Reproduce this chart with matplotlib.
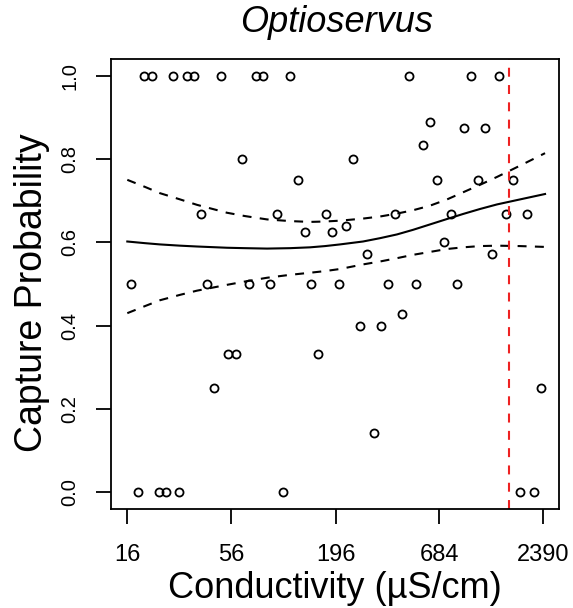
import matplotlib
matplotlib.use("Agg")
import matplotlib.pyplot as plt

plt.rcParams['font.family'] = ['Liberation Sans', 'DejaVu Sans']

# Observed capture proportions by site conductivity (uS/cm)
cond = [19.6, 21.5, 27.6, 32.7, 35.7, 49.6, 75.0, 81.9, 113.8, 473, 1005, 1407,
        63.6, 242,
        124.4, 662.6, 1093, 1666,
        609,
        923, 1185,
        562,
        38.7, 96.9, 174.2, 401, 784, 1526, 1964,
        135.3, 188.7,
        223.2,
        721,
        287.4, 1294,
        16.7, 41.9, 69.2, 89.1, 146.5, 203.2, 368.8, 514.7, 849,
        434.9,
        264.2, 339,
        54.0, 59.0, 159.4,
        45.6, 2317,
        311.6,
        18.3, 23.4, 25.6, 29.9, 104.6, 1805, 2130]
prob = [1.0] * 12 + [0.8] * 2 + [0.75] * 4 + [0.889] + [0.875] * 2 + [0.833] \
    + [0.667] * 7 + [0.625] * 2 + [0.64] + [0.6] + [0.571] * 2 + [0.5] * 9 \
    + [0.429] + [0.4] * 2 + [0.333] * 3 + [0.25] * 2 + [0.143] + [0.0] * 7

# Fitted curve and confidence band
fit_x = [16, 19.8, 23.7, 30.2, 37.0, 53.1, 66.0, 86.0, 113.4, 144.2, 172.8, 206.9,
         272.9, 334.9, 410.9, 498.1, 611.2, 750.1, 909.1, 1115, 1369, 1805, 2440]
fit_mid = [0.602, 0.598, 0.595, 0.592, 0.590, 0.587, 0.586, 0.585, 0.586, 0.588, 0.591, 0.595,
           0.602, 0.610, 0.619, 0.630, 0.643, 0.656, 0.668, 0.680, 0.691, 0.703, 0.716]
fit_hi = [0.750, 0.733, 0.718, 0.703, 0.690, 0.671, 0.663, 0.655, 0.651, 0.649, 0.650, 0.652,
          0.657, 0.662, 0.669, 0.677, 0.688, 0.703, 0.720, 0.738, 0.757, 0.784, 0.814]
fit_lo = [0.430, 0.447, 0.461, 0.474, 0.484, 0.498, 0.506, 0.515, 0.522, 0.527, 0.531, 0.536,
          0.547, 0.554, 0.562, 0.570, 0.577, 0.584, 0.588, 0.591, 0.592, 0.591, 0.589]

threshold = 1582
xticks = [16, 56, 196, 684, 2390]
yticks = [0.0, 0.2, 0.4, 0.6, 0.8, 1.0]

W, H = 573, 608
fig = plt.figure(figsize=(W / 100, H / 100), dpi=100)
ax = fig.add_axes([111 / W, 1 - 509 / H, 448 / W, 450 / H])

ax.plot(cond, prob, linestyle='none', marker='o', markersize=5.8,
        markerfacecolor='none', markeredgecolor='black', markeredgewidth=1.3)
ax.plot(fit_x, fit_mid, color='black', lw=1.5, solid_joinstyle='round')
ax.plot(fit_x, fit_hi, color='black', lw=1.5, linestyle=(0, (4.3, 4.0)))
ax.plot(fit_x, fit_lo, color='black', lw=1.5, linestyle=(0, (4.3, 4.0)))
ax.axvline(threshold, color='#EE2222', lw=1.5, linestyle=(0, (4.3, 4.0)))

ax.set_xscale('log')
ax.set_xlim(13.15, 2886)
ax.set_ylim(-0.04, 1.04)
ax.set_xticks(xticks)
ax.set_xticklabels([str(t) for t in xticks])
ax.xaxis.set_minor_locator(matplotlib.ticker.NullLocator())
ax.set_yticks(yticks)
ax.set_yticklabels([f"{t:.1f}" for t in yticks], rotation=90, va='center')

for s in ax.spines.values():
    s.set_linewidth(1.3)
ax.tick_params(axis='both', direction='out', length=11, width=1.3, color='black')
ax.tick_params(axis='x', labelsize=17, pad=14)
ax.tick_params(axis='y', labelsize=14.5, pad=12)

ax.set_xlabel('Conductivity (µS/cm)', fontsize=26)
ax.xaxis.label.set_va('baseline')
ax.xaxis.set_label_coords(0.5, (509 - 598.3) / 450)
ax.set_ylabel('Capture Probability', fontsize=27)
ax.yaxis.label.set_va('baseline')
ax.yaxis.set_label_coords((41.7 - 111) / 448, (509 - 293) / 450)

fig.text(336.7 / W, 1 - 32 / H, 'Optioservus', fontsize=26, style='italic',
         ha='center', va='baseline')

fig.savefig('out.png', dpi=100)
